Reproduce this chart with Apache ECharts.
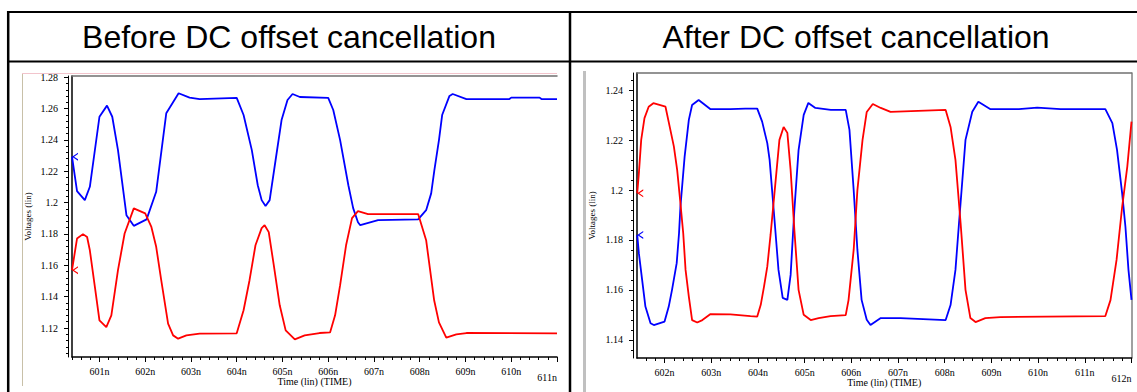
<!DOCTYPE html>
<html>
<head>
<meta charset="utf-8">
<script src="https://cdn.jsdelivr.net/npm/echarts@6/dist/echarts.min.js"></script>
<style>
html,body{margin:0;padding:0;background:#fff;}
#c{width:1137px;height:392px;}
</style>
</head>
<body>
<div id="c"></div>
<script>
// ---------- data ----------
const panelTitles = ['Before DC offset cancellation', 'After DC offset cancellation'];
const xAxisTitle = 'Time (lin) (TIME)';
const yAxisTitle = 'Voltages (lin)';

// [time (ns), voltage (V)]
const beforeBlue = [
  [600.40,1.2293],[600.51,1.2073],[600.68,1.2016],[600.79,1.2101],[601.00,1.2548],
  [601.165,1.2619],[601.28,1.2548],[601.405,1.2335],[601.59,1.1920],[601.75,1.1852],
  [602.03,1.1893],[602.24,1.2069],[602.46,1.2570],[602.73,1.2698],[602.97,1.2670],
  [603.19,1.2661],[604.00,1.2668],[604.15,1.2559],[604.33,1.2335],[604.46,1.2111],
  [604.545,1.2016],[604.63,1.1978],[604.72,1.2016],[604.85,1.2272],[604.98,1.2527],
  [605.11,1.2655],[605.22,1.2693],[605.38,1.2674],[606.00,1.2668],[606.11,1.2591],
  [606.26,1.2399],[606.44,1.2111],[606.545,1.1965],[606.65,1.1875],[606.70,1.1856],
  [607.09,1.1888],[607.965,1.1893],[608.14,1.1952],[608.25,1.2059],[608.32,1.2208],
  [608.42,1.2399],[608.49,1.2559],[608.65,1.2681],[608.72,1.2693],[609.02,1.2661],
  [609.96,1.2661],[610.00,1.2670],[610.62,1.2670],[610.66,1.2661],[611.00,1.2661]
];
const beforeRed = [
  [600.40,1.1569],[600.51,1.1771],[600.64,1.1799],[600.73,1.1781],[600.79,1.1696],
  [600.90,1.1462],[601.00,1.1249],[601.15,1.1206],[601.26,1.1281],[601.405,1.1569],
  [601.55,1.1803],[601.75,1.1963],[602.00,1.1931],[602.135,1.1845],[602.24,1.1718],
  [602.35,1.1505],[602.50,1.1228],[602.61,1.1153],[602.72,1.1132],[602.90,1.1153],
  [603.19,1.1164],[604.00,1.1166],[604.15,1.1313],[604.28,1.1505],[604.41,1.1728],
  [604.545,1.1837],[604.61,1.1856],[604.70,1.1812],[604.81,1.1601],[604.94,1.1345],
  [605.07,1.1185],[605.27,1.1128],[605.485,1.1153],[605.81,1.1168],[606.04,1.1172],
  [606.15,1.1281],[606.26,1.1473],[606.39,1.1728],[606.52,1.1901],[606.65,1.1946],
  [606.87,1.1927],[607.965,1.1927],[608.14,1.1760],[608.315,1.1377],[608.42,1.1236],
  [608.58,1.1139],[608.80,1.1160],[609.02,1.1168],[611.00,1.1166]
];
const afterBlue = [
  [601.415,1.1820],[601.45,1.1747],[601.52,1.1640],[601.59,1.1533],[601.70,1.1466],
  [601.77,1.1459],[602.00,1.1473],[602.09,1.1533],[602.16,1.1600],[602.26,1.1707],
  [602.31,1.1827],[602.34,1.1933],[602.43,1.2134],[602.52,1.2281],[602.59,1.2341],
  [602.73,1.2361],[602.985,1.2324],[603.41,1.2324],[603.73,1.2326],[603.985,1.2326],
  [604.09,1.2274],[604.20,1.2188],[604.25,1.2121],[604.355,1.1880],[604.44,1.1680],
  [604.53,1.1568],[604.63,1.1560],[604.70,1.1660],[604.78,1.1920],[604.87,1.2160],
  [604.98,1.2301],[605.08,1.2349],[605.23,1.2329],[605.56,1.2321],[605.88,1.2321],
  [605.96,1.2241],[606.05,1.2000],[606.13,1.1760],[606.22,1.1560],[606.33,1.1480],
  [606.41,1.1459],[606.63,1.1487],[607.055,1.1487],[608.02,1.1479],[608.125,1.1539],
  [608.23,1.1680],[608.30,1.1853],[608.445,1.2201],[608.59,1.2314],[608.72,1.2354],
  [608.98,1.2324],[609.59,1.2324],[609.98,1.2330],[610.48,1.2324],[611.44,1.2324],
  [611.59,1.2268],[611.69,1.2161],[611.80,1.1987],[611.87,1.1853],[611.935,1.1680],
  [612.00,1.1560]
];
const afterRed = [
  [601.415,1.1987],[601.45,1.2067],[601.50,1.2201],[601.57,1.2288],[601.66,1.2334],
  [601.76,1.2348],[602.02,1.2334],[602.11,1.2254],[602.20,1.2174],[602.27,1.2081],
  [602.34,1.1947],[602.40,1.1827],[602.45,1.1680],[602.52,1.1573],[602.59,1.1479],
  [602.70,1.1469],[602.81,1.1479],[602.985,1.1503],[603.41,1.1502],[603.84,1.1495],
  [603.985,1.1493],[604.06,1.1540],[604.13,1.1613],[604.20,1.1693],[604.27,1.1820],
  [604.38,1.2040],[604.46,1.2201],[604.55,1.2253],[604.63,1.2229],[604.70,1.2080],
  [604.78,1.1840],[604.87,1.1600],[604.98,1.1500],[605.13,1.1479],[605.30,1.1487],
  [605.555,1.1495],[605.88,1.1499],[605.94,1.1559],[606.05,1.1760],[606.13,1.2000],
  [606.24,1.2201],[606.33,1.2313],[606.46,1.2345],[606.63,1.2329],[606.84,1.2313],
  [608.02,1.2321],[608.125,1.2253],[608.23,1.2121],[608.34,1.1868],[608.445,1.1600],
  [608.55,1.1487],[608.66,1.1471],[608.87,1.1487],[609.19,1.1491],[611.44,1.1495],
  [611.55,1.1559],[611.68,1.1720],[611.80,1.1933],[611.91,1.2094],[612.00,1.2274]
];

const xTicksBefore = [601,602,603,604,605,606,607,608,609,610,611];
const yTicksBefore = [1.12,1.14,1.16,1.18,1.2,1.22,1.24,1.26,1.28];
const xTicksAfter  = [602,603,604,605,606,607,608,609,610,611,612];
const yTicksAfter  = [1.14,1.16,1.18,1.2,1.22,1.24];

const xRangeBefore = [600.4, 611];
const yRangeBefore = [1.1015, 1.2808];
const xRangeAfter  = [601.41, 612];
const yRangeAfter  = [1.1327, 1.2469];

// ---------- helpers ----------
function minorValues(range, step){
  const out = [];
  let k = Math.ceil(range[0]/step - 1e-9);
  for(;;k++){
    const v = +(k*step).toFixed(6);
    if (v > range[1] + 1e-9) break;
    out.push(v);
  }
  return out;
}
const SERIF = 'Liberation Serif';
const BLUE = '#0000ff', RED = '#ff0000';
const lt = {fontFamily: SERIF, fontSize: 10, color: '#000'};

function buildAxes(g, xr, yr, xt, yt, withRightFrame, nameGapY){
  const xMax = xr[1];
  const xs = [
    { gridIndex:g, type:'value', min:xr[0], max:xr[1], position:'bottom',
      axisLine:{show:true, onZero:false, lineStyle:{color:'#000', width:1.5}},
      axisTick:{show:true, customValues:xt, length:5, lineStyle:{color:'#000', width:1}},
      axisLabel:{show:true, customValues:xt, margin:9, ...lt, showMaxLabel:true, alignMaxLabel:'right',
        formatter:(v)=> (Math.abs(v - xMax) < 1e-6 ? '{low|' + Math.round(v) + 'n}' : Math.round(v) + 'n'),
        rich:{low:{fontFamily:SERIF, fontSize:10, color:'#000', padding:[6,0,0,0]}}},
      splitLine:{show:false},
      name:xAxisTitle, nameLocation:'middle', nameGap:19, nameMoveOverlap:false,
      nameTextStyle:{fontFamily:SERIF, fontSize:10, color:'#000'} },
    { gridIndex:g, type:'value', min:xr[0], max:xr[1], position:'bottom',
      axisLine:{show:false, onZero:false},
      axisTick:{show:true, customValues:minorValues(xr, 0.2), length:3, lineStyle:{color:'#000', width:1}},
      axisLabel:{show:false}, splitLine:{show:false} },
    { gridIndex:g, type:'value', min:xr[0], max:xr[1], position:'top',
      axisLine:{show:true, onZero:false, lineStyle:{color:'#707070', width:1.5}},
      axisTick:{show:false}, axisLabel:{show:false}, splitLine:{show:false} }
  ];
  const ys = [
    { gridIndex:g, type:'value', min:yr[0], max:yr[1], position:'left', offset:4,
      axisLine:{show:true, onZero:false, lineStyle:{color:'#000', width:1}},
      axisTick:{show:true, customValues:yt, length:4, lineStyle:{color:'#000', width:1}},
      axisLabel:{show:true, customValues:yt, margin:10, ...lt,
        formatter:(v)=> String(+(+v).toFixed(3))},
      splitLine:{show:false},
      name:yAxisTitle, nameLocation:'middle', nameGap:nameGapY, nameRotate:90, nameMoveOverlap:false,
      nameTextStyle:{fontFamily:SERIF, fontSize:9, color:'#000'} },
    { gridIndex:g, type:'value', min:yr[0], max:yr[1], position:'left', offset:4,
      axisLine:{show:false, onZero:false},
      axisTick:{show:true, customValues:minorValues(yr, 0.004), length:2, lineStyle:{color:'#000', width:1}},
      axisLabel:{show:false}, splitLine:{show:false} },
    { gridIndex:g, type:'value', min:yr[0], max:yr[1], position:'left', offset:0,
      axisLine:{show:true, onZero:false, lineStyle:{color:'#000', width:1.5}},
      axisTick:{show:false}, axisLabel:{show:false}, splitLine:{show:false} }
  ];
  if (withRightFrame) {
    ys.push({ gridIndex:g, type:'value', min:yr[0], max:yr[1], position:'right', offset:0,
      axisLine:{show:true, onZero:false, lineStyle:{color:'#808080', width:1.5}},
      axisTick:{show:false}, axisLabel:{show:false}, splitLine:{show:false} });
  }
  return {xs, ys};
}

const A0 = buildAxes(0, xRangeBefore, yRangeBefore, xTicksBefore, yTicksBefore, false, 36);
const A1 = buildAxes(1, xRangeAfter, yRangeAfter, xTicksAfter, yTicksAfter, true, 37);
const xAxes = A0.xs.concat(A1.xs);
const yAxes = A0.ys.concat(A1.ys);
const X1 = A0.xs.length, Y1 = A0.ys.length;

const chevron = 'path://M7,0 L0,4 L7,8 L7,6.6 L2.4,4 L7,1.4 Z';
function lineSeries(data, color, xi, yi){
  return {
    type:'line', data:data, xAxisIndex:xi, yAxisIndex:yi,
    showSymbol:false, symbol:'none', smooth:false, animation:false,
    lineStyle:{color:color, width:1.8}, itemStyle:{color:color},
    markPoint:{ silent:true, animation:false, symbol:chevron, symbolSize:[6,8], symbolOffset:[3,0],
      itemStyle:{color:color}, label:{show:false},
      data:[{coord:data[0]}] }
  };
}

const chart = echarts.init(document.getElementById('c'), null, {renderer:'svg'});
chart.setOption({
  backgroundColor:'#fff',
  animation:false,
  title:[
    {text:panelTitles[0], left:289, top:21, textAlign:'center', padding:0,
     textStyle:{fontFamily:'Liberation Sans', fontSize:32, fontWeight:'normal', color:'#000'}},
    {text:panelTitles[1], left:856, top:21, textAlign:'center', padding:0,
     textStyle:{fontFamily:'Liberation Sans', fontSize:32, fontWeight:'normal', color:'#000'}}
  ],
  grid:[
    {left:72, top:76, width:485, height:281, containLabel:false, outerBoundsMode:'none'},
    {left:637, top:73, width:494.5, height:285, containLabel:false, outerBoundsMode:'none'}
  ],
  xAxis:xAxes,
  yAxis:yAxes,
  series:[
    lineSeries(beforeBlue, BLUE, 0, 0),
    lineSeries(beforeRed, RED, 0, 0),
    lineSeries(afterBlue, BLUE, X1, Y1),
    lineSeries(afterRed, RED, X1, Y1)
  ],
  graphic:[
    {type:'line', silent:true, shape:{x1:22.5,y1:73,x2:22.5,y2:386}, style:{stroke:'#c8c0a8', lineWidth:1}},
    {type:'line', silent:true, shape:{x1:22,y1:73.5,x2:557,y2:73.5}, style:{stroke:'#f2c4cc', lineWidth:1}},
    {type:'line', silent:true, shape:{x1:584.5,y1:71,x2:584.5,y2:392}, style:{stroke:'#c0c0c0', lineWidth:3}},
    {type:'line', silent:true, shape:{x1:7,y1:12,x2:1137,y2:12}, style:{stroke:'#000', lineWidth:2}},
    {type:'line', silent:true, shape:{x1:7,y1:61.5,x2:1137,y2:61.5}, style:{stroke:'#000', lineWidth:2}},
    {type:'line', silent:true, shape:{x1:8.2,y1:11,x2:8.2,y2:392}, style:{stroke:'#000', lineWidth:2.5}},
    {type:'line', silent:true, shape:{x1:570,y1:11,x2:570,y2:392}, style:{stroke:'#000', lineWidth:2.5}}
  ]
});
</script>
</body>
</html>
